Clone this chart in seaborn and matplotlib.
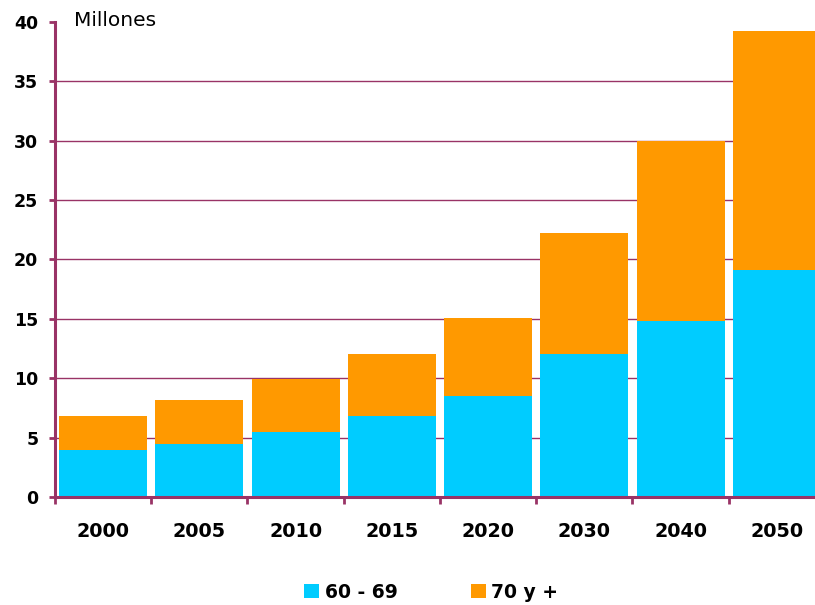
import matplotlib
matplotlib.use("Agg")
import matplotlib.pyplot as plt
from matplotlib.patches import Patch
from matplotlib.ticker import MultipleLocator, FixedLocator
import seaborn as sns
import pandas as pd

years = ["2000", "2005", "2010", "2015", "2020", "2030", "2040", "2050"]
age_60_69 = [4.0, 4.5, 5.5, 6.8, 8.5, 12.0, 14.8, 19.1]
age_70_plus = [2.8, 3.7, 4.4, 5.2, 6.6, 10.2, 15.2, 20.1]

BLUE = "#00CCFF"
ORANGE = "#FF9900"
AXIS = "#993366"

df = pd.DataFrame({"year": years, "a": age_60_69, "b": age_70_plus})
df["total"] = df["a"] + df["b"]

sns.set_style("white")
plt.rcParams["font.family"] = ["DejaVu Sans"]
plt.rcParams["text.color"] = "black"

fig = plt.figure(figsize=(8.15, 6.05), dpi=100)
ax = fig.add_axes([55 / 815, 1 - 497 / 605, 770 / 815, 475 / 605])

# stacked bars: full total in orange, lower segment in blue on top of it
sns.barplot(data=df, x="year", y="total", color=ORANGE, width=0.915,
            saturation=1, ax=ax, zorder=2, linewidth=0, edgecolor="none")
sns.barplot(data=df, x="year", y="a", color=BLUE, width=0.915,
            saturation=1, ax=ax, zorder=3, linewidth=0, edgecolor="none")

ax.set_ylim(0, 40)
ax.set_xlim(-0.5, len(years) - 0.5)
ax.set_xlabel("")
ax.set_ylabel("")

for v in range(5, 40, 5):
    ax.axhline(v, color=AXIS, lw=1.0, zorder=1)

for side in ("top", "right"):
    ax.spines[side].set_visible(False)
for side in ("left", "bottom"):
    ax.spines[side].set_color(AXIS)
    ax.spines[side].set_linewidth(2.2)
    ax.spines[side].set_zorder(4)

ax.yaxis.set_major_locator(MultipleLocator(5))
ax.tick_params(axis="y", which="major", left=True, direction="out", length=4.5,
               width=2, color=AXIS, pad=7.5, labelsize=12.5)
ax.xaxis.set_minor_locator(FixedLocator([i - 0.5 for i in range(len(years) + 1)]))
ax.tick_params(axis="x", which="major", bottom=True, length=0, pad=18,
               labelsize=13.8)
ax.tick_params(axis="x", which="minor", bottom=True, direction="out", length=5,
               width=2, color=AXIS)
for lab in ax.get_xticklabels() + ax.get_yticklabels():
    lab.set_fontweight("bold")
    lab.set_color("black")

fig.text(74 / 815, 1 - 20 / 605, "Millones", fontsize=14.5, va="center",
         ha="left", color="black")

handles = [Patch(facecolor=BLUE, edgecolor="none", label="60 - 69"),
           Patch(facecolor=ORANGE, edgecolor="none", label="70 y +")]
leg = fig.legend(handles=handles, loc="center", ncol=2,
                 bbox_to_anchor=(0.529, 1 - 592 / 605), frameon=False,
                 prop={"weight": "bold", "size": 13.5}, handlelength=0.8,
                 handleheight=0.8, handletextpad=0.3, columnspacing=3.9,
                 labelcolor="black")

fig.savefig("out.png", dpi=100)
